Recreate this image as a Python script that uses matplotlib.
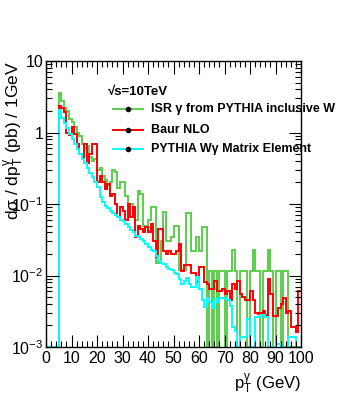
import numpy as np
import matplotlib
matplotlib.use("Agg")
import matplotlib.pyplot as plt
from matplotlib.ticker import MultipleLocator, LogLocator

plt.rcParams['font.family'] = ['Liberation Sans', 'DejaVu Sans']
plt.rcParams['mathtext.fontset'] = 'custom'
plt.rcParams['mathtext.rm'] = 'Liberation Sans'
plt.rcParams['mathtext.it'] = 'Liberation Sans:italic'
plt.rcParams['mathtext.bf'] = 'Liberation Sans:bold'
plt.rcParams['mathtext.default'] = 'regular'

# 1 GeV bins from 0 to 100 GeV
edges = np.arange(0, 101, 1)

# ISR gamma from PYTHIA inclusive W (bins 0..99)
isr_pythia = [0, 0, 0, 0, 0,
              3.6, 2.8, 2.2, 2.0, 1.55, 1.4, 1.2, 1.0, 0.9, 0.7,
              0.6, 0.65, 0.45, 0.4, 0.42, 0.3, 0.32, 0.25, 0.22, 0.18,
              0.2, 0.3, 0.28, 0.17, 0.2, 0.2, 0.13, 0.1, 0.1, 0.09,
              0.06, 0.15, 0.14, 0.05, 0.05, 0.06, 0.09, 0.09, 0.015, 0.015,
              0.03, 0.077, 0.03, 0.03, 0.035, 0.05, 0.05, 0.012, 0.012, 0.012,
              0.075, 0.075, 0.022, 0.022, 0.034, 0.022, 0.047, 0.047, 0, 0.0114,
              0, 0.0114, 0, 0.0114, 0.0114, 0, 0.0114, 0.0114, 0.023, 0.0114,
              0, 0.0114, 0.0114, 0.0114, 0, 0.0114, 0.023, 0.0114, 0.0114, 0,
              0.0114, 0.0114, 0.023, 0.0114, 0, 0.0114, 0.0114, 0, 0.0114, 0.0114,
              0, 0, 0, 0, 0]

# Baur NLO
baur_nlo = [0, 0, 0, 0, 0,
            2.35, 2.2, 1.95, 1.0, 0.92, 1.2, 0.95, 0.7, 0.5, 0.45,
            0.7, 0.38, 0.5, 0.68, 0.68, 0.2, 0.25, 0.2, 0.16, 0.19,
            0.13, 0.14, 0.1, 0.066, 0.09, 0.08, 0.06, 0.1, 0.065, 0.09,
            0.035, 0.05, 0.045, 0.04, 0.048, 0.04, 0.053, 0.03, 0.018, 0.045,
            0.045, 0.022, 0.02, 0.022, 0.02, 0.02, 0.022, 0.028, 0.0117, 0.014,
            0.014, 0.014, 0.011, 0.011, 0.008, 0.013, 0.013, 0.008, 0.0075, 0.0065,
            0.0065, 0.0085, 0.006, 0.006, 0.0065, 0.0055, 0.006, 0.0045, 0.0076, 0.0065,
            0.0085, 0.0055, 0.005, 0.0045, 0.0045, 0.006, 0.0045, 0.003, 0.0029, 0.003,
            0.0032, 0.0028, 0.009, 0.0055, 0.0027, 0.0027, 0.0035, 0.004, 0.0048, 0.003,
            0.0032, 0.0019, 0.0019, 0.0016, 0.006]

# PYTHIA W gamma matrix element
pythia_me = [0, 0, 0, 0, 0,
             2.05, 1.6, 1.35, 1.15, 0.95, 0.8, 0.68, 0.58, 0.5, 0.43,
             0.37, 0.32, 0.27, 0.235, 0.2, 0.175, 0.125, 0.105, 0.095, 0.088,
             0.08, 0.076, 0.07, 0.065, 0.06, 0.057, 0.052, 0.047, 0.043, 0.04,
             0.036, 0.034, 0.032, 0.03, 0.028, 0.025, 0.023, 0.022, 0.019, 0.016,
             0.015, 0.0145, 0.013, 0.0125, 0.012, 0.011, 0.0105, 0.0088, 0.0077, 0.0085,
             0.0092, 0.0075, 0.007, 0.0068, 0.0095, 0.0065, 0.0045, 0.0036, 0.0048, 0.0042,
             0.0035, 0.0047, 0.0042, 0.0048, 0.0048, 0.0048, 0.0045, 0.0038, 0.0019, 0.0017,
             0, 0.0014, 0.0014, 0.0014, 0.0025, 0, 0, 0.0026, 0.0026, 0.0028,
             0.0028, 0.0026, 0, 0, 0, 0.0011, 0.0011, 0, 0, 0,
             0.0014, 0.0014, 0.0014, 0, 0]

labels = ["ISR \u03b3 from PYTHIA inclusive W", "Baur NLO",
          "PYTHIA W\u03b3 Matrix Element"]
colors = ["#5ccd4c", "#ff0000", "#00ffff"]

ymin, ymax = 1e-3, 10

fig = plt.figure(figsize=(3.55, 4.0), dpi=100)
ax = fig.add_axes([0.1296, 0.1325, 0.7183, 0.715])

for vals, c in zip([isr_pythia, baur_nlo, pythia_me], colors):
    v = np.clip(np.array(vals, dtype=float), ymin, None)  # empty bins sit on the frame
    ax.stairs(v, edges, baseline=None, color=c, lw=1.4)

ax.set_yscale('log')
ax.set_xlim(0, 100)
ax.set_ylim(ymin, ymax)

ax.xaxis.set_major_locator(MultipleLocator(10))
ax.xaxis.set_minor_locator(MultipleLocator(2))
ax.yaxis.set_minor_locator(LogLocator(base=10, subs=np.arange(2, 10)))
ax.set_yticks([1e-3, 1e-2, 1e-1, 1, 10])
ax.set_yticklabels(["$10^{-3}$", "$10^{-2}$", "$10^{-1}$", "1", "10"])
ax.tick_params(which='both', direction='in', top=True, right=True,
               labelsize=11.5, pad=3)
ax.tick_params(which='major', length=9, width=0.8)
ax.tick_params(which='minor', length=4.5, width=0.8)
ax.tick_params(axis='y', which='major', pad=2)
for s in ax.spines.values():
    s.set_linewidth(1.0)

ax.set_ylabel("d\u03c3 / dp$_T^{\\gamma}$ (pb) / 1GeV", fontsize=12.5, loc='top')
ax.yaxis.set_label_coords(-0.08, 1.0)
ax.set_xlabel("p$_T^{\\gamma}$ (GeV)", fontsize=12, loc='right')
ax.xaxis.set_label_coords(1.0, -0.085)

# legend drawn by hand, ROOT style (line with marker)
fig.text(108 / 355, 1 - 92 / 400, "\u221as=10TeV", fontsize=9.5, fontweight='bold',
         va='center', ha='left')
ys = [109, 130, 149]
for lab, c, yp in zip(labels, colors, ys):
    yf = 1 - yp / 400
    fig.add_artist(plt.Line2D([113 / 355, 143 / 355], [yf, yf], color=c, lw=1.4,
                              transform=fig.transFigure))
    fig.add_artist(plt.Line2D([128 / 355], [yf], marker='o', ms=3, color='black',
                              transform=fig.transFigure))
    fig.text(151 / 355, yf, lab, fontsize=9, fontweight='bold', va='center', ha='left')

fig.savefig("out.png", dpi=100)
